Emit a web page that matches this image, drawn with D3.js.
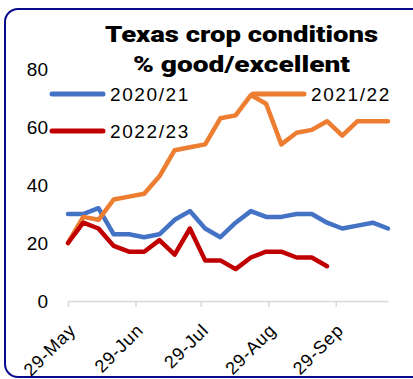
<!DOCTYPE html>
<html>
<head>
<meta charset="utf-8">
<script src="https://cdn.jsdelivr.net/npm/d3@7/dist/d3.min.js"></script>
<style>
  html, body { margin: 0; padding: 0; background: #fff; }
  svg { display: block; }
</style>
</head>
<body>
<svg id="chart" width="413" height="379"></svg>
<script>
// Weekly crop condition ratings, % good/excellent
const startDate = "2022-05-29";
const series2020 = [30, 30, 32, 23, 23, 22, 23, 28, 31, 25, 22, 27, 31, 29, 29, 30, 30, 27, 25, 26, 27, 25];
const series2021 = [20, 29, 28, 35, 36, 37, 43, 52, 53, 54, 63, 64, 71, 68, 54, 58, 59, 62, 57, 62, 62, 62];
const series2022 = [20, 27, 25, 19, 17, 17, 21, 16, 25, 14, 14, 11, 15, 17, 17, 15, 15, 12];
const seasonNames = ["2020/21", "2021/22", "2022/23"];
const tickDates = ["2022-05-29", "2022-06-29", "2022-07-29", "2022-08-29", "2022-09-29"];
const yTicks = [0, 20, 40, 60, 80];
const titleLines = ["Texas crop conditions", "% good/excellent"];

const parse = d3.utcParse("%Y-%m-%d");
const t0 = parse(startDate);
const weekOf = i => d3.utcDay.offset(t0, 7 * i);

const svg = d3.select("#chart");
const colors = ["#4472C4", "#ED7D31", "#C00000"];

const x = d3.scaleUtc()
  .domain([t0, weekOf(series2020.length - 1)])
  .range([68, 388]);
const y = d3.scaleLinear().domain([0, 80]).range([301, 69]);

// Rounded frame
svg.append("rect")
  .attr("x", 5).attr("y", 9)
  .attr("width", 420).attr("height", 368)
  .attr("rx", 13).attr("ry", 13)
  .attr("fill", "none")
  .attr("stroke", "#0a0a8c")
  .attr("stroke-width", 2);

// Title
svg.append("g").selectAll("text")
  .data(titleLines)
  .join("text")
  .attr("x", 241.5)
  .attr("y", (d, i) => 42 + i * 30)
  .attr("text-anchor", "middle")
  .attr("font-family", "Roboto, 'DejaVu Sans', sans-serif")
  .attr("font-weight", 900)
  .attr("font-size", 22.5)
  .attr("fill", "#000")
  .attr("textLength", (d, i) => i === 0 ? 273 : 217)
  .attr("lengthAdjust", "spacingAndGlyphs")
  .text(d => d);

// Y axis labels (no axis line)
const yAxis = d3.axisLeft(y).tickValues(yTicks).tickSize(0).tickPadding(0);
const gy = svg.append("g").attr("transform", "translate(48,0)").call(yAxis);
gy.select(".domain").remove();
gy.selectAll("text")
  .attr("font-family", "'Liberation Sans', Arial, sans-serif")
  .attr("font-size", 19)
  .attr("fill", "#000")
  .attr("dy", "0.35em");

// X axis
const xAxis = d3.axisBottom(x)
  .tickValues(tickDates.map(parse))
  .tickFormat(d3.utcFormat("%-d-%b"))
  .tickSize(6)
  .tickSizeOuter(0);
const gx = svg.append("g").attr("transform", `translate(0,${y(0)})`).call(xAxis);
gx.select(".domain").attr("stroke", "#d9d9d9").attr("stroke-width", 1.5);
gx.selectAll(".tick line").attr("stroke", "#d9d9d9").attr("stroke-width", 1.5);
gx.selectAll("text")
  .attr("font-family", "'Liberation Sans', Arial, sans-serif")
  .attr("font-size", 18)
  .attr("letter-spacing", 0.8)
  .attr("fill", "#000")
  .attr("text-anchor", "end")
  .attr("dy", 0)
  .attr("transform", "translate(2,24) rotate(-45)");

// Series lines
const line = d3.line()
  .x((d, i) => x(weekOf(i)))
  .y(d => y(d));

const allSeries = [series2020, series2021, series2022];
svg.append("g").selectAll("path")
  .data(allSeries)
  .join("path")
  .attr("d", line)
  .attr("fill", "none")
  .attr("stroke", (d, i) => colors[i])
  .attr("stroke-width", 4.5)
  .attr("stroke-linejoin", "round")
  .attr("stroke-linecap", "round");

// Legend
const legendItems = [
  { name: seasonNames[0], color: colors[0], x: 52, y: 94 },
  { name: seasonNames[1], color: colors[1], x: 253, y: 94 },
  { name: seasonNames[2], color: colors[2], x: 52, y: 131 }
];
const lg = svg.append("g").selectAll("g").data(legendItems).join("g")
  .attr("transform", d => `translate(${d.x},${d.y})`);
lg.append("line")
  .attr("x1", 0).attr("x2", 51)
  .attr("stroke", d => d.color)
  .attr("stroke-width", 5)
  .attr("stroke-linecap", "round");
lg.append("text")
  .attr("x", 58)
  .attr("dy", "0.35em")
  .attr("font-family", "'Liberation Sans', Arial, sans-serif")
  .attr("font-size", 19)
  .attr("letter-spacing", 1.6)
  .attr("fill", "#000")
  .text(d => d.name);
</script>
</body>
</html>
